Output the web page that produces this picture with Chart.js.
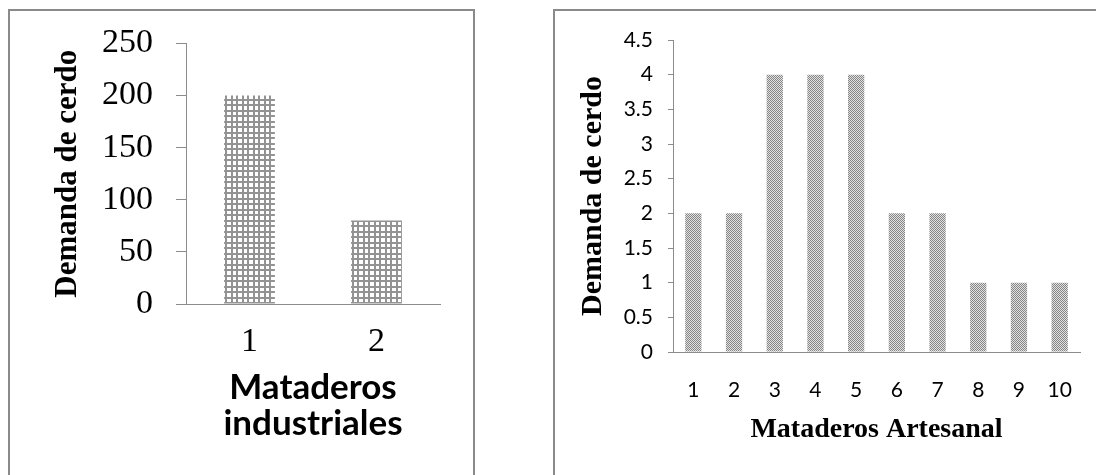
<!DOCTYPE html>
<html>
<head>
<meta charset="utf-8">
<script src="https://cdn.jsdelivr.net/npm/chart.js@4.4.0/dist/chart.umd.min.js"></script>
<style>
  html, body { margin: 0; padding: 0; width: 1096px; height: 475px; overflow: hidden; background: #fff; }
  .panel { position: absolute; border: 2px solid #8a8a8a; box-sizing: border-box; }
  #panelIndustrial { left: 8px; top: 9px; width: 467px; height: 540px; }
  #panelArtesanal { left: 553px; top: 9px; width: 620px; height: 540px; }
  canvas { position: absolute; top: 0; }
  #chartIndustrial { left: 0; }
  #chartArtesanal { left: 520px; }
</style>
</head>
<body>
<div class="panel" id="panelIndustrial"></div>
<div class="panel" id="panelArtesanal"></div>
<canvas id="chartIndustrial" width="520" height="475"></canvas>
<canvas id="chartArtesanal" width="576" height="475"></canvas>
<script>
// Demanda de cerdo por matadero
const industrialCategories = ['1', '2'];
const industrialDemand = [200, 80];
const industrialTicks = ['0', '50', '100', '150', '200', '250'];

const artesanalCategories = ['1', '2', '3', '4', '5', '6', '7', '8', '9', '10'];
const artesanalDemand = [2, 2, 4, 4, 4, 2, 2, 1, 1, 1];
const artesanalTicks = ['0', '0.5', '1', '1.5', '2', '2.5', '3', '3.5', '4', '4.5'];

const AXIS_GREY = '#8c8c8c';
const SERIF = "'Liberation Serif', 'Times New Roman', serif";
const SANS = "Lato, 'Open Sans', sans-serif";

// Hatch fills: a square grid for the industrial bars, a fine checker for the artisanal ones
function gridPattern() {
  const t = document.createElement('canvas');
  t.width = 11; t.height = 11;
  const g = t.getContext('2d');
  g.fillStyle = '#ffffff'; g.fillRect(0, 0, 11, 11);
  g.fillStyle = '#939393';
  g.fillRect(0, 0, 2, 11); g.fillRect(5, 0, 2, 11);
  g.fillRect(0, 0, 11, 2); g.fillRect(0, 5, 11, 2);
  return g.createPattern(t, 'repeat');
}
function checkerPattern() {
  const t = document.createElement('canvas');
  t.width = 2; t.height = 2;
  const g = t.getContext('2d');
  g.fillStyle = '#e2e2e2'; g.fillRect(0, 0, 2, 2);
  g.fillStyle = '#858585';
  g.fillRect(0, 0, 1, 1); g.fillRect(1, 1, 1, 1);
  return g.createPattern(t, 'repeat');
}

Chart.defaults.animation = false;
Chart.defaults.color = '#000';

new Chart(document.getElementById('chartIndustrial'), {
  type: 'bar',
  data: {
    labels: industrialCategories,
    datasets: [{
      data: industrialDemand,
      backgroundColor: gridPattern(),
      borderWidth: 0,
      barPercentage: 0.4,
      categoryPercentage: 1
    }]
  },
  options: {
    responsive: false,
    layout: { padding: { left: 0, right: 80, top: 39, bottom: 33 } },
    plugins: { legend: { display: false }, tooltip: { enabled: false } },
    scales: {
      x: {
        grid: { display: false },
        border: { display: true, color: AXIS_GREY, width: 1 },
        ticks: { font: { family: SERIF, size: 34 }, color: '#000', padding: 10 },
        title: {
          display: true,
          text: ['Mataderos', 'industriales'],
          font: { family: SANS, size: 35, weight: 'bold', lineHeight: 1.03 },
          color: '#000',
          padding: { top: 0, bottom: 0 }
        },
        afterFit: s => { s.height = 138; }
      },
      y: {
        min: 0, max: 250,
        ticks: {
          stepSize: 50,
          callback: (v, i) => industrialTicks[i],
          font: { family: SERIF, size: 34 },
          color: '#000',
          padding: 23
        },
        grid: { drawOnChartArea: false, drawTicks: true, tickLength: 10, color: AXIS_GREY },
        border: { display: true, color: AXIS_GREY, width: 1 },
        title: {
          display: true,
          text: 'Demanda de cerdo',
          font: { family: SERIF, size: 31, weight: 'bold', lineHeight: 1.2 },
          color: '#000',
          padding: { top: 49, bottom: 0 }
        },
        afterFit: s => { s.width = 186; }
      }
    }
  }
});

new Chart(document.getElementById('chartArtesanal'), {
  type: 'bar',
  data: {
    labels: artesanalCategories,
    datasets: [{
      data: artesanalDemand,
      backgroundColor: checkerPattern(),
      borderWidth: 0,
      barPercentage: 0.4,
      categoryPercentage: 1
    }]
  },
  options: {
    responsive: false,
    layout: { padding: { left: 0, right: 16, top: 40, bottom: 28 } },
    plugins: { legend: { display: false }, tooltip: { enabled: false } },
    scales: {
      x: {
        grid: { display: false },
        border: { display: true, color: AXIS_GREY, width: 1 },
        ticks: { font: { family: SANS, size: 21 }, color: '#000', padding: 18 },
        title: {
          display: true,
          text: 'Mataderos Artesanal',
          font: { family: SERIF, size: 28, weight: 'bold', lineHeight: 1.2 },
          color: '#000',
          padding: { top: 0, bottom: 0 }
        },
        afterFit: s => { s.height = 95; }
      },
      y: {
        min: 0, max: 4.5,
        ticks: {
          stepSize: 0.5,
          callback: (v, i) => artesanalTicks[i],
          font: { family: SANS, size: 21 },
          color: '#000',
          padding: 15
        },
        grid: { drawOnChartArea: false, drawTicks: true, tickLength: 5, color: AXIS_GREY },
        border: { display: true, color: AXIS_GREY, width: 1 },
        title: {
          display: true,
          text: 'Demanda de cerdo',
          font: { family: SERIF, size: 30, weight: 'bold', lineHeight: 1.2 },
          color: '#000',
          padding: { top: 55, bottom: 0 }
        },
        afterFit: s => { s.width = 153; }
      }
    }
  }
});
</script>
</body>
</html>
